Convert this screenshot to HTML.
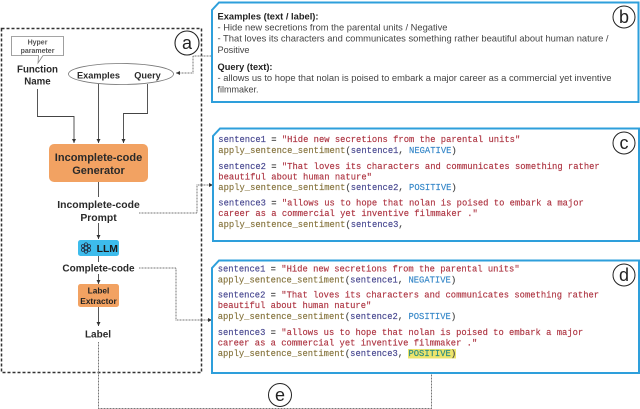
<!DOCTYPE html>
<html><head><meta charset="utf-8"><style>
html,body{margin:0;padding:0;background:#fff}
svg{display:block}
text{font-family:"Liberation Sans",sans-serif}
.l{font-weight:bold;font-size:10.2px;fill:#2a2a2a;text-anchor:middle}
.b{font-size:9.4px;fill:#444}
.bb{font-size:9.4px;fill:#222;font-weight:bold}
.c text{font-family:"Liberation Mono",monospace;font-size:9.6px;stroke-width:.15px}
.v{fill:#46468f;stroke:#46468f}.f{fill:#85733c;stroke:#85733c}.s{fill:#ad3340;stroke:#ad3340}.k{fill:#3587c8;stroke:#3587c8}.p{fill:#444;stroke:#444}
</style></head><body>
<svg width="640" height="409" viewBox="0 0 640 409" xmlns="http://www.w3.org/2000/svg">
<defs>
<marker id="ar" markerWidth="6" markerHeight="6" refX="4" refY="2" orient="auto" markerUnits="userSpaceOnUse"><path d="M0,0L4,2L0,4Z" fill="#333"/></marker>
</defs>
<rect x="1.5" y="28.5" width="200" height="344" fill="none" stroke="#333" stroke-width="1.5" stroke-dasharray="3 2"/>

<path d="M11.5,36.5H63.5V55.5H43L38,63L38.5,55.5H11.5Z" fill="#fff" stroke="#888" stroke-width=".8"/>
<text x="37.5" y="44.5" text-anchor="middle" font-size="7" font-weight="bold" fill="#555">Hyper</text>
<text x="37.5" y="53" text-anchor="middle" font-size="7" font-weight="bold" fill="#555">parameter</text>
<text class="l" x="37.5" y="72.5" style="font-size:9.7px">Function</text>
<text class="l" x="37.5" y="84.5" style="font-size:9.7px">Name</text>
<ellipse cx="121" cy="74" rx="52.5" ry="10.5" fill="#fff" stroke="#777" stroke-width=".8"/>
<text class="l" x="98.5" y="78.5" style="font-size:9.2px">Examples</text>
<text class="l" x="147.5" y="78.5" style="font-size:9.2px">Query</text>

<g fill="none" stroke="#444" stroke-width=".9" marker-end="url(#ar)">
<path d="M37.5,89V116.5H74V143"/>
<path d="M98.5,84V143"/>
<path d="M147.5,84V113.5H123.5V143"/>
<path d="M98.5,223V239"/>
<path d="M98.5,274V284"/>
<path d="M98.5,307V326"/>
</g>
<path d="M98.5,182V197M98.5,256V262" stroke="#444" stroke-width=".9"/>

<rect x="49" y="144" width="99" height="38" rx="5" fill="#f2a262"/>
<text class="l" x="98.5" y="161" style="font-size:11px">Incomplete-code</text>
<text class="l" x="98.5" y="174" style="font-size:11px">Generator</text>
<text class="l" x="98.5" y="208" style="font-size:10.4px">Incomplete-code</text>
<text class="l" x="98.5" y="221" style="font-size:10.4px">Prompt</text>

<rect x="78" y="240" width="41" height="16" rx="2.5" fill="#3dbcec"/>
<g fill="none" stroke="#223" stroke-width=".7">
<circle cx="86" cy="248" r="1.8"/><circle cx="86" cy="244.3" r="1.5"/><circle cx="86" cy="251.7" r="1.5"/>
<circle cx="82.9" cy="246.1" r="1.5"/><circle cx="89.1" cy="246.1" r="1.5"/><circle cx="82.9" cy="249.9" r="1.5"/><circle cx="89.1" cy="249.9" r="1.5"/>
</g>
<text x="107.3" y="251.8" text-anchor="middle" font-size="10.4" font-weight="bold" fill="#1a1a1a">LLM</text>
<text class="l" x="98.5" y="271.5" style="font-size:10px">Complete-code</text>
<rect x="78" y="284" width="41" height="23" rx="2.5" fill="#f2a262"/>
<text x="98.5" y="293.5" text-anchor="middle" font-size="8.3" font-weight="bold" fill="#222">Label</text>
<text x="98.5" y="304" text-anchor="middle" font-size="8.3" font-weight="bold" fill="#222">Extractor</text>
<text class="l" x="98" y="337.5" style="font-size:10px">Label</text>

<g fill="none" stroke="#777" stroke-width="1" stroke-dasharray="1 .5">
<path d="M211,56H193V73H176" marker-end="url(#ar)"/>
<path d="M139,213H197V185H213" marker-end="url(#ar)"/>
<path d="M139,268H176V320H212" marker-end="url(#ar)"/>
<path d="M98.5,342V408.5H431.5V360" marker-end="url(#ar)"/>
</g>

<circle cx="187" cy="43" r="12" fill="#fff" stroke="#222" stroke-width="1.1"/>
<text x="187" y="49" text-anchor="middle" font-size="18" fill="#222">a</text>

<path d="M212,10L219,2.5H638.5V102H212Z" fill="#fff" stroke="#2e9fdb" stroke-width="2"/>
<circle cx="624" cy="17" r="11" fill="#fff" stroke="#222" stroke-width="1"/>
<text x="624" y="23" text-anchor="middle" font-size="18" fill="#222">b</text>
<text class="bb" x="217.5" y="19.5" textLength="101" lengthAdjust="spacingAndGlyphs">Examples (text / label):</text>
<text class="b" x="217.5" y="30.5" textLength="230" lengthAdjust="spacingAndGlyphs">- Hide new secretions from the parental units / Negative</text>
<text class="b" x="217.5" y="41.5" textLength="391" lengthAdjust="spacingAndGlyphs">- That loves its characters and communicates something rather beautiful about human nature /</text>
<text class="b" x="217.5" y="53" textLength="32" lengthAdjust="spacingAndGlyphs">Positive</text>
<text class="bb" x="217.5" y="70" textLength="55" lengthAdjust="spacingAndGlyphs">Query (text):</text>
<text class="b" x="217.5" y="81" textLength="394" lengthAdjust="spacingAndGlyphs">- allows us to hope that nolan is poised to embark a major career as a commercial yet inventive</text>
<text class="b" x="217.5" y="92.5" textLength="41" lengthAdjust="spacingAndGlyphs">filmmaker.</text>

<path d="M213,136L220,128.5H639V241H213Z" fill="#fff" stroke="#2e9fdb" stroke-width="2"/>
<circle cx="624" cy="143" r="11" fill="#fff" stroke="#222" stroke-width="1"/>
<text x="624" y="149" text-anchor="middle" font-size="18" fill="#222">c</text>
<g class="c" transform="translate(218.3,0) scale(.92,1)">
<text y="142"><tspan class="v">sentence1 </tspan><tspan class="p">= </tspan><tspan class="s">"Hide new secretions from the parental units"</tspan></text>
<text y="153"><tspan class="f">apply_sentence_sentiment</tspan><tspan class="p">(</tspan><tspan class="v">sentence1</tspan><tspan class="p">, </tspan><tspan class="k">NEGATIVE</tspan><tspan class="p">)</tspan></text>
<text y="169"><tspan class="v">sentence2 </tspan><tspan class="p">= </tspan><tspan class="s">"That loves its characters and communicates something rather</tspan></text>
<text y="179.5" class="s">beautiful about human nature"</text>
<text y="190"><tspan class="f">apply_sentence_sentiment</tspan><tspan class="p">(</tspan><tspan class="v">sentence2</tspan><tspan class="p">, </tspan><tspan class="k">POSITIVE</tspan><tspan class="p">)</tspan></text>
<text y="205.5"><tspan class="v">sentence3 </tspan><tspan class="p">= </tspan><tspan class="s">"allows us to hope that nolan is poised to embark a major</tspan></text>
<text y="216" class="s">career as a commercial yet inventive filmmaker ."</text>
<text y="227"><tspan class="f">apply_sentence_sentiment</tspan><tspan class="p">(</tspan><tspan class="v">sentence3</tspan><tspan class="p">,</tspan></text>
</g>

<path d="M212,268L219,260.5H639V373H212Z" fill="#fff" stroke="#2e9fdb" stroke-width="2"/>
<circle cx="624" cy="275" r="11" fill="#fff" stroke="#222" stroke-width="1"/>
<text x="624" y="281" text-anchor="middle" font-size="18" fill="#222">d</text>
<rect x="408" y="349" width="48" height="9.5" fill="#ece46c"/>
<g class="c" transform="translate(217.7,0) scale(.92,1)">
<text y="271.5"><tspan class="v">sentence1 </tspan><tspan class="p">= </tspan><tspan class="s">"Hide new secretions from the parental units"</tspan></text>
<text y="282.5"><tspan class="f">apply_sentence_sentiment</tspan><tspan class="p">(</tspan><tspan class="v">sentence1</tspan><tspan class="p">, </tspan><tspan class="k">NEGATIVE</tspan><tspan class="p">)</tspan></text>
<text y="297.5"><tspan class="v">sentence2 </tspan><tspan class="p">= </tspan><tspan class="s">"That loves its characters and communicates something rather</tspan></text>
<text y="308" class="s">beautiful about human nature"</text>
<text y="319"><tspan class="f">apply_sentence_sentiment</tspan><tspan class="p">(</tspan><tspan class="v">sentence2</tspan><tspan class="p">, </tspan><tspan class="k">POSITIVE</tspan><tspan class="p">)</tspan></text>
<text y="335"><tspan class="v">sentence3 </tspan><tspan class="p">= </tspan><tspan class="s">"allows us to hope that nolan is poised to embark a major</tspan></text>
<text y="345.5" class="s">career as a commercial yet inventive filmmaker ."</text>
<text y="356"><tspan class="f">apply_sentence_sentiment</tspan><tspan class="p">(</tspan><tspan class="v">sentence3</tspan><tspan class="p">, </tspan><tspan fill="#2a8a80" stroke="#2a8a80">POSITIVE</tspan><tspan class="p">)</tspan></text>
</g>

<circle cx="280" cy="395" r="11.5" fill="#fff" stroke="#222" stroke-width="1"/>
<text x="280" y="401" text-anchor="middle" font-size="18" fill="#222">e</text>
</svg>
</body></html>
